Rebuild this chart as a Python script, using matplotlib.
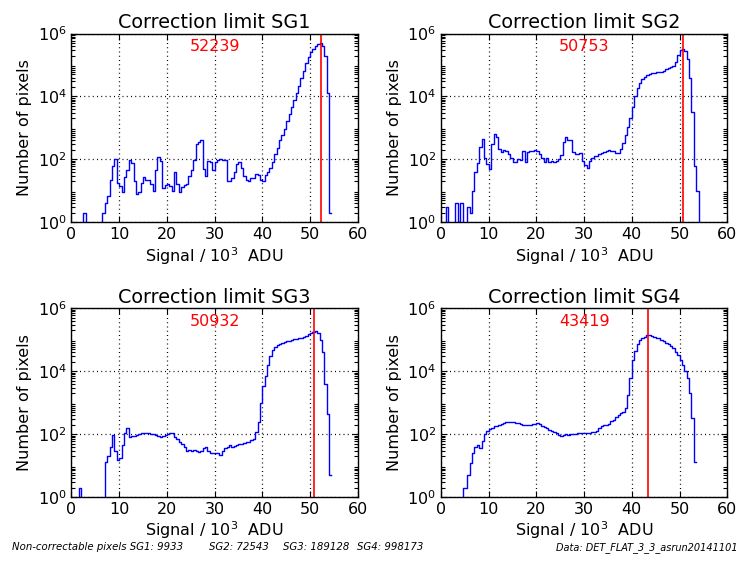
import numpy as np
import matplotlib
matplotlib.use("Agg")
import matplotlib.pyplot as plt
from matplotlib.ticker import LogLocator, NullFormatter

# histogram counts, bins of 0.5 (x 10^3 ADU) starting at 0
bin_width = 0.5

sg1_counts = [0, 0, 0, 0, 0, 2, 0, 0, 0, 0, 0, 0, 0, 2, 4, 7, 22, 60, 105, 18,
              14, 9, 28, 45, 95, 75, 20, 8, 9, 18, 28, 22, 22, 17, 10, 45, 120, 90, 12, 15,
              17, 14, 10, 40, 16, 9, 13, 15, 17, 30, 45, 95, 300, 360, 420, 50, 30, 90, 80, 45,
              80, 95, 100, 95, 95, 20, 20, 25, 40, 70, 85, 55, 30, 22, 20, 26, 25, 35, 32, 22,
              20, 32, 40, 55, 85, 150, 225, 400, 575, 950, 1600, 2800, 4700, 7800, 12500, 21000,
              38000, 66000, 112000, 186000, 263000, 324000, 390000, 457000, 490000, 400000,
              200000, 12600, 2]

sg2_counts = [0, 0, 3, 0, 0, 0, 4, 1, 4, 0, 0, 3, 2, 10, 40, 75, 250, 450, 110, 70,
              50, 300, 650, 500, 220, 170, 200, 190, 150, 110, 80, 80, 100, 95, 190, 80, 170, 190, 180, 200,
              190, 150, 110, 80, 110, 85, 90, 80, 90, 100, 140, 350, 500, 420, 400, 170, 150, 150, 160, 90,
              65, 55, 90, 110, 125, 125, 145, 155, 170, 180, 200, 190, 180, 165, 160, 210, 320, 600, 1070, 2140,
              4700, 10000, 18000, 27500, 36000, 41000, 47000, 51000, 55000, 57500, 60000, 60000, 61500, 63000,
              72000, 78000, 85000, 91000, 126000, 214000, 295000, 324000, 269000, 158000, 40000, 3200,
              60, 10, 0]

sg3_counts = [0, 0, 0, 2, 0, 0, 0, 0, 0, 0, 0, 0, 0, 0, 13, 20, 40, 95, 30, 15,
              18, 45, 105, 160, 80, 85, 90, 95, 100, 105, 110, 110, 105, 100, 100, 95, 85, 80, 90, 95,
              100, 110, 105, 80, 70, 55, 48, 40, 30, 32, 28, 32, 30, 27, 28, 35, 40, 30, 25, 25,
              25, 25, 22, 30, 35, 38, 45, 40, 42, 45, 48, 50, 52, 58, 55, 65, 70, 117, 235, 1000,
              3500, 7000, 16000, 29500, 46000, 59000, 69000, 76000, 81000, 87000, 90000, 93000, 97000,
              102000, 106000, 110000, 117000, 126000, 135000, 148000, 166000, 182000, 190000, 170000,
              100000, 40000, 4000, 450, 5]

sg4_counts = [0, 0, 0, 0, 0, 0, 0, 0, 0, 2, 2, 5, 12, 25, 40, 45, 36, 60, 100, 130,
              150, 160, 175, 180, 200, 215, 230, 240, 240, 240, 235, 230, 220, 210, 200, 195, 195, 200, 210, 215,
              220, 205, 185, 170, 155, 140, 130, 120, 105, 95, 90, 95, 100, 95, 100, 100, 100, 105, 110, 105,
              107, 110, 112, 115, 120, 122, 160, 175, 190, 200, 215, 260, 290, 340, 400, 470, 520, 700, 1800, 6300,
              22000, 45000, 71000, 100000, 117000, 126000, 138000, 141000, 132000, 123000, 115000, 110000,
              100000, 89000, 81000, 72000, 63000, 54000, 42000, 33000, 23000, 16000, 10500, 6300, 2000,
              320, 13]

labels = ["SG1", "SG2", "SG3", "SG4"]
limits = [52239, 50753, 50932, 43419]
non_correctable = [9933, 72543, 189128, 998173]
data_name = "DET_FLAT_3_3_asrun20141101"

all_counts = [sg1_counts, sg2_counts, sg3_counts, sg4_counts]

plt.rcParams['font.family'] = ['DejaVu Sans']
plt.rcParams['mathtext.fontset'] = 'dejavusans'

fig = plt.figure(figsize=(7.4, 5.63), dpi=100)

# axes boxes in figure fractions (left, bottom, width, height)
boxes = [
    [0.0966, 0.6052, 0.3868, 0.3352],
    [0.5960, 0.6052, 0.3868, 0.3352],
    [0.0966, 0.1172, 0.3868, 0.3352],
    [0.5960, 0.1172, 0.3868, 0.3352],
]

for box, name, counts, lim in zip(boxes, labels, all_counts, limits):
    ax = fig.add_axes(box)
    counts = np.array(counts, dtype=float)
    edges = np.arange(len(counts) + 1) * bin_width
    ax.step(edges, np.append(counts, counts[-1]), where='post', color='b', lw=1.0)
    ax.axvline(lim / 1000.0, color='r', lw=1.2)

    ax.set_yscale('log')
    ax.set_xlim(0, 60)
    ax.set_ylim(1, 1e6)
    ax.set_xticks([0, 10, 20, 30, 40, 50, 60])
    ax.yaxis.set_minor_locator(LogLocator(base=10, subs=np.arange(2, 10), numticks=100))
    ax.yaxis.set_minor_formatter(NullFormatter())

    ax.grid(True, which='major', color='k', linestyle=(0, (0.8, 2.6)), lw=0.9)
    ax.tick_params(which='both', direction='in', top=True, right=True, labelsize=11.5)
    ax.tick_params(which='major', length=4.5, width=0.8)
    ax.tick_params(which='minor', length=3.0, width=0.8)
    for s in ax.spines.values():
        s.set_linewidth(1.0)

    ax.set_title("Correction limit " + name, fontsize=13.8, pad=4)
    ax.set_xlabel("Signal / 10$^3$  ADU", fontsize=11.5, labelpad=2)
    ax.set_ylabel("Number of pixels", fontsize=11.5, labelpad=4)
    ax.text(0.5, 0.93, str(lim), color='r', fontsize=11.5, ha='center', va='center',
            transform=ax.transAxes)

# footer notes
foot_y = 0.028
fig.text(12 / 740, foot_y, "Non-correctable pixels SG1: %d" % non_correctable[0],
         fontsize=7.3, style='italic', ha='left', va='center')
fig.text(209 / 740, foot_y, "SG2: %d" % non_correctable[1],
         fontsize=7.3, style='italic', ha='left', va='center')
fig.text(283 / 740, foot_y, "SG3: %d" % non_correctable[2],
         fontsize=7.3, style='italic', ha='left', va='center')
fig.text(357 / 740, foot_y, "SG4: %d" % non_correctable[3],
         fontsize=7.3, style='italic', ha='left', va='center')
fig.text(0.997, foot_y, "Data: " + data_name, fontsize=7, style='italic', ha='right', va='center')

fig.savefig("out.png", dpi=100, facecolor='white')
